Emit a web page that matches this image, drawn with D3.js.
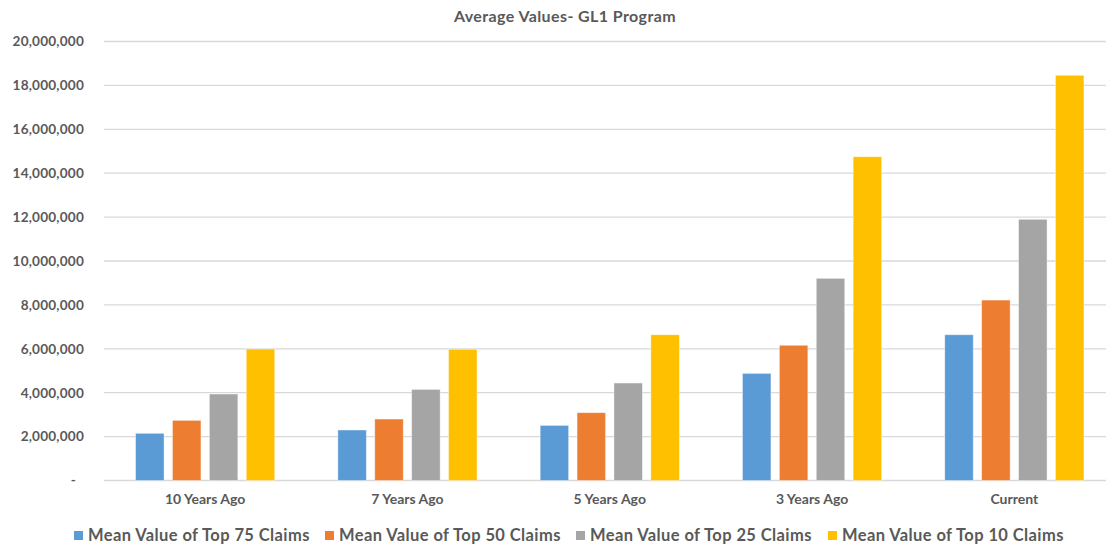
<!DOCTYPE html>
<html>
<head>
<meta charset="utf-8">
<script src="https://cdn.jsdelivr.net/npm/d3@7"></script>
<style>
  html, body { margin: 0; padding: 0; background: #fff; }
  svg { display: block; }
  text { font-family: Lato, "Open Sans", sans-serif; font-weight: bold; fill: #595959; }
</style>
</head>
<body>
<svg id="chart" width="1106" height="546"></svg>
<script>
const title = "Average Values- GL1 Program";
const categories = ["10 Years Ago", "7 Years Ago", "5 Years Ago", "3 Years Ago", "Current"];
const seriesNames = ["Mean Value of Top 75 Claims", "Mean Value of Top 50 Claims", "Mean Value of Top 25 Claims", "Mean Value of Top 10 Claims"];
const top75 = [2150000, 2300000, 2510000, 4880000, 6640000];
const top50 = [2740000, 2800000, 3090000, 6160000, 8220000];
const top25 = [3940000, 4150000, 4440000, 9210000, 11900000];
const top10 = [5990000, 5980000, 6640000, 14750000, 18460000];
const yTicks = [0, 2000000, 4000000, 6000000, 8000000, 10000000, 12000000, 14000000, 16000000, 18000000, 20000000];
const colors = ["#5B9BD5", "#ED7D31", "#A5A5A5", "#FFC000"];

const seriesValues = [top75, top50, top25, top10];
const svg = d3.select("#chart");

const x0 = d3.scaleBand().domain(categories).range([104, 1115.5]).paddingInner(0.312).paddingOuter(0.156);
const x1 = d3.scaleBand().domain(seriesNames).range([0, x0.bandwidth()]).paddingInner(0.228).paddingOuter(0);
const y = d3.scaleLinear().domain([0, 20000000]).range([480.5, 41.5]);

// gridlines
svg.append("g").selectAll("line").data(yTicks).join("line")
  .attr("x1", 104).attr("x2", 1106)
  .attr("y1", d => y(d)).attr("y2", d => y(d))
  .attr("stroke", "#d9d9d9").attr("stroke-width", 1.3);

// y axis
const fmt = d3.format(",");
const yAxis = svg.append("g").attr("transform", "translate(84,0)")
  .call(d3.axisLeft(y).tickValues(yTicks).tickSize(0).tickPadding(0).tickFormat(d => d === 0 ? "-" : fmt(d)));
yAxis.select(".domain").remove();
yAxis.selectAll("text").attr("font-size", 13.6).attr("fill", "#595959")
  .style("font-family", "Lato, sans-serif").style("font-weight", "bold")
  .style("letter-spacing", "0.2px")
  .attr("x", d => d === 0 ? -8 : 0);

// bars
const groups = svg.append("g").selectAll("g").data(categories).join("g")
  .attr("transform", d => `translate(${x0(d)},0)`);
groups.selectAll("rect")
  .data((c, i) => seriesNames.map((s, j) => ({ s, j, v: seriesValues[j][i] })))
  .join("rect")
  .attr("x", d => x1(d.s))
  .attr("width", x1.bandwidth())
  .attr("y", d => y(d.v))
  .attr("height", d => y(0) - y(d.v))
  .attr("fill", d => colors[d.j])
  .attr("stroke", "#ffffff").attr("stroke-opacity", 0.5).attr("stroke-width", 0.8);

// x axis labels
const xAxis = svg.append("g").attr("transform", `translate(0,${y(0)})`)
  .call(d3.axisBottom(x0).tickSize(0).tickPadding(14));
xAxis.select(".domain").remove();
xAxis.selectAll("text").attr("font-size", 14).attr("fill", "#595959")
  .style("font-family", "Lato, sans-serif").style("font-weight", "bold");

// title
svg.append("text").attr("x", 565).attr("y", 22).attr("text-anchor", "middle")
  .attr("font-size", 16).style("letter-spacing", "0.4px").text(title);

// legend
const legendX = [74, 325, 576, 828];
const leg = svg.append("g").selectAll("g").data(seriesNames).join("g")
  .attr("transform", (d, i) => `translate(${legendX[i]},0)`);
leg.append("rect").attr("x", 0).attr("y", 531).attr("width", 9).attr("height", 9)
  .attr("fill", (d, i) => colors[i]);
leg.append("text").attr("x", 14).attr("y", 541).attr("font-size", 16.5)
  .style("letter-spacing", "0.4px").text(d => d);
</script>
</body>
</html>
